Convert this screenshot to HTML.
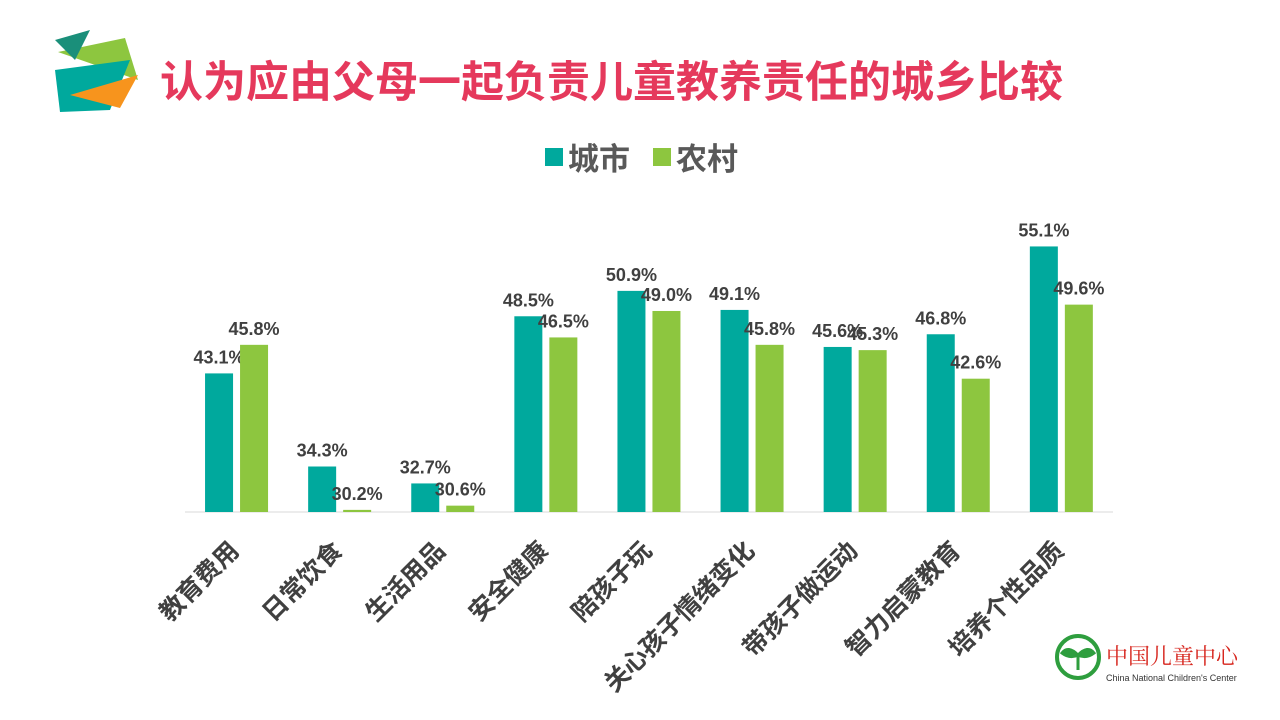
<!DOCTYPE html>
<html><head><meta charset="utf-8">
<style>
body{margin:0;width:1280px;height:720px;background:#fff;overflow:hidden;font-family:"Liberation Sans","Noto Sans CJK SC",sans-serif;}
svg{display:block}
</style></head>
<body>
<svg id="c" width="1280" height="720">
  <g>
    <polygon points="58,52 125,38 138,80" fill="#8dc63f"/>
    <polygon points="55,70 130,60 110,110 60,112" fill="#00a99d"/>
    <polygon points="70,95 138,75 120,108" fill="#f7941d"/>
    <polygon points="55,40 90,30 75,60" fill="#1a8f7a"/>
  </g>
  <text x="160" y="97" font-size="43" font-weight="bold" fill="#e5395c">认为应由父母一起负责儿童教养责任的城乡比较</text>
  <g>
    <rect x="545" y="148" width="18" height="18" fill="#00a99d"/>
    <text x="568" y="170" font-size="31" font-weight="bold" fill="#595959">城市</text>
    <rect x="653" y="148" width="18" height="18" fill="#8dc63f"/>
    <text x="676" y="170" font-size="31" font-weight="bold" fill="#595959">农村</text>
  </g>
  <line x1="185" y1="512" x2="1113" y2="512" stroke="#d9d9d9" stroke-width="1"/>
  <g id="bars"></g>
  <g>
    <circle cx="1078" cy="657" r="21" fill="none" stroke="#2e9e3e" stroke-width="4"/>
    <path d="M1078 670 V655 M1078 655 q-10 -10 -16 -2 q8 6 16 2 M1078 655 q10 -10 16 -2 q-8 6 -16 2" stroke="#2e9e3e" stroke-width="3" fill="#2e9e3e"/>
    <text x="1106" y="664" font-size="22" fill="#d7261e" font-family="'Noto Serif CJK SC',serif">中国儿童中心</text>
    <text x="1106" y="681" font-size="9" fill="#333">China National Children's Center</text>
  </g>
</svg>
<script>
const categories=["教育费用","日常饮食","生活用品","安全健康","陪孩子玩","关心孩子情绪变化","带孩子做运动","智力启蒙教育","培养个性品质"];
const cityValues=[43.1,34.3,32.7,48.5,50.9,49.1,45.6,46.8,55.1];
const ruralValues=[45.8,30.2,30.6,46.5,49.0,45.8,45.3,42.6,49.6];
const yMin=30, pxPerUnit=10.58, baseY=512;
const x0=185, groupW=103.1, barW=28, gap=7;
function y(v){return baseY-(v-yMin)*pxPerUnit;}
function gx(i){return x0+i*groupW+groupW/2;}
const g=document.getElementById('bars');
const NS="http://www.w3.org/2000/svg";
function mk(t,a){const e=document.createElementNS(NS,t);for(const k in a)e.setAttribute(k,a[k]);return e;}
categories.forEach((c,i)=>{
  const cx=gx(i);
  [[cityValues[i],'#00a99d',cx-gap/2-barW,'city'],[ruralValues[i],'#8dc63f',cx+gap/2,'rural']].forEach(([v,col,bx,s])=>{
    const r=mk('rect',{x:bx,y:y(v),width:barW,height:baseY-y(v),fill:col});
    
    
    g.appendChild(r);
    const t=mk('text',{x:bx+barW/2,y:y(v)-10,'font-size':18,'font-weight':'bold',fill:'#404040','text-anchor':'middle'});
    t.textContent=v.toFixed(1)+'%';
    
    
    g.appendChild(t);
  });
  const lx=cx+4, ly=552;
  const l=mk('text',{x:lx,y:ly,'font-size':25,'font-weight':'bold',fill:'#404040','text-anchor':'end',transform:`rotate(-45 ${lx} ${ly})`});
  l.textContent=c;
  
  
  g.appendChild(l);
});
</script>
</body></html>
